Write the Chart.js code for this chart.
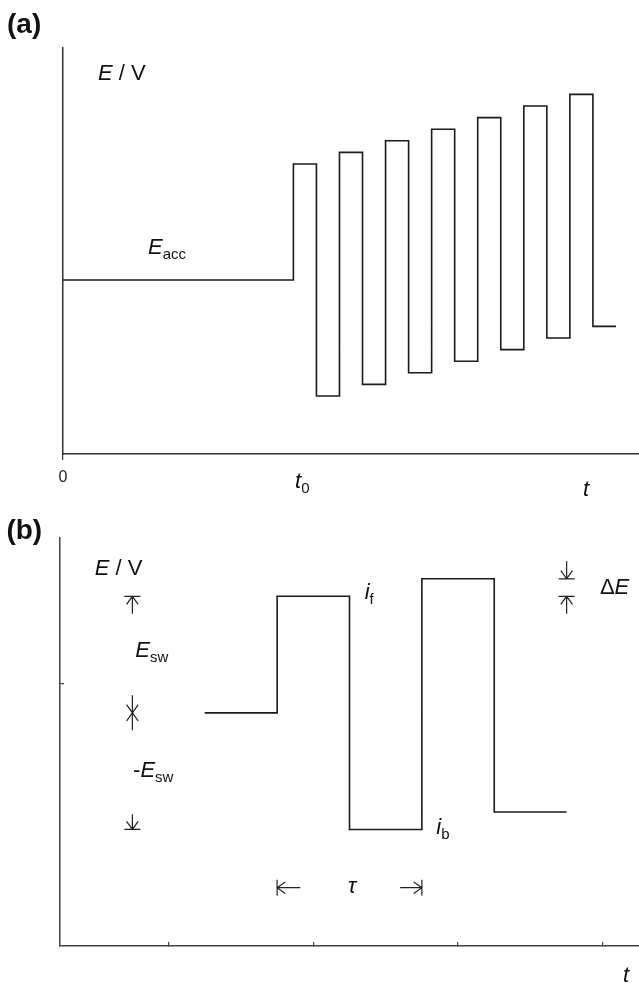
<!DOCTYPE html>
<html>
<head>
<meta charset="utf-8">
<script src="https://cdn.jsdelivr.net/npm/chart.js@4/dist/chart.umd.min.js"></script>
<style>
    html, body { margin: 0; padding: 0; background: #fff; }
    canvas { position: absolute; left: 0; }
    #panelA { top: 0; }
    #panelB { top: 500px; }
</style>
</head>
<body>
<canvas id="panelA" width="639" height="500"></canvas>
<canvas id="panelB" width="639" height="486"></canvas>
<script>
// (a) acumulacion + escalera de onda cuadrada
const tiemposA = [0, 10, 11, 12, 13, 14, 15, 16, 17, 18, 19, 20, 21, 22, 23, 24];
const potencialA = [15, 25, 5, 26, 6, 27, 7, 28, 8, 29, 9, 30, 10, 31, 11, 11];
const ticksA = [0];
const etiquetasA = ["0"];

// (b) detalle de dos periodos
const tiemposB = [2, 3, 4, 5, 6, 7];
const potencialB = [2, 3, 1, 3.15, 1.15, 1.15];
const ticksXB = [1.5, 3.5, 5.5, 7.5];
const ticksYB = [2.25];

const FUENTE = '"Liberation Sans", Arial, sans-serif';
const TINTA = "#1a1a1a";

// anotaciones en unidades de los ejes
const textosA = [
    { x: -2.43, y: 36.3, partes: [["(a)", "b"]] },
    { x: 1.52, y: 32.2, partes: [["E", "i"], [" / V", ""]] },
    { x: 3.69, y: 17.2, partes: [["E", "i"], ["acc", "s"]] },
    { x: 10.07, y: -2.93, partes: [["t", "i"], ["0", "s"]] },
    { x: 22.57, y: -3.62, partes: [["t", "i"]] }
];

const textosB = [
    { x: -0.74, y: 3.49, partes: [["(b)", "b"]] },
    { x: 0.48, y: 3.18, partes: [["E", "i"], [" / V", ""]] },
    { x: 1.04, y: 2.48, partes: [["E", "i"], ["sw", "s"]] },
    { x: 1.01, y: 1.45, partes: [["-", ""], ["E", "i"], ["sw", "s"]] },
    { x: 4.21, y: 2.98, partes: [["i", "i"], ["f", "s"]] },
    { x: 5.20, y: 0.96, partes: [["i", "i"], ["b", "s"]] },
    { x: 7.46, y: 3.02, partes: [["\u0394", ""], ["E", "i"]] },
    { x: 3.98, y: 0.455, partes: [["\u03c4", "i"]] },
    { x: 7.78, y: -0.31, partes: [["t", "i"]] }
];

// [x desde, y desde, x punta, y punta]
const flechasB = [
    [1, 2.85, 1, 3],
    [1, 1.13, 1, 1],
    [7, 3.30, 7, 3.15],
    [7, 2.85, 7, 3],
    [3.32, 0.5, 3, 0.5],
    [4.70, 0.5, 5, 0.5]
];
const estrellaB = { x: 1, y: 2, alto: 0.15 };

function textoRico(ctx, x, y, partes) {
    let cx = x;
    partes.forEach(([texto, estilo]) => {
        const sub = estilo.includes("s");
        const cursiva = estilo.includes("i");
        const negrita = estilo.includes("b");
        const tam = sub ? 15 : (negrita ? 28 : 22);
        ctx.font = (cursiva ? "italic " : "") + (negrita ? "bold " : "") + tam + "px " + FUENTE;
        ctx.fillText(texto, cx, sub ? y + 5 : y);
        cx += ctx.measureText(texto).width;
    });
}

function punta(ctx, x1, y1, x2, y2) {
    const ang = Math.atan2(y2 - y1, x2 - x1);
    const L = 10, W = 0.62;
    ctx.moveTo(x2 - L * Math.cos(ang - W), y2 - L * Math.sin(ang - W));
    ctx.lineTo(x2, y2);
    ctx.lineTo(x2 - L * Math.cos(ang + W), y2 - L * Math.sin(ang + W));
}

function flecha(ctx, x1, y1, x2, y2) {
    const ang = Math.atan2(y2 - y1, x2 - x1);
    const B = 8;
    ctx.beginPath();
    ctx.moveTo(x1, y1);
    ctx.lineTo(x2, y2);
    punta(ctx, x1, y1, x2, y2);
    ctx.moveTo(x2 - B * Math.sin(ang), y2 + B * Math.cos(ang));
    ctx.lineTo(x2 + B * Math.sin(ang), y2 - B * Math.cos(ang));
    ctx.stroke();
}

function pluginNotas(id, textos, flechas, estrella) {
    return {
        id: id,
        afterDraw(chart) {
            const { ctx, scales: { x, y } } = chart;
            const px = (v) => x.getPixelForValue(v);
            const py = (v) => y.getPixelForValue(v);
            ctx.save();
            ctx.fillStyle = "#111";
            ctx.strokeStyle = "#222";
            ctx.lineWidth = 1.2;
            ctx.textBaseline = "alphabetic";
            ctx.textAlign = "left";
            textos.forEach((t) => textoRico(ctx, px(t.x), py(t.y), t.partes));
            flechas.forEach((f) => flecha(ctx, px(f[0]), py(f[1]), px(f[2]), py(f[3])));
            if (estrella) {
                const cx = px(estrella.x), cy = py(estrella.y);
                const arriba = py(estrella.y + estrella.alto), abajo = py(estrella.y - estrella.alto);
                ctx.beginPath();
                ctx.moveTo(cx, arriba);
                ctx.lineTo(cx, abajo);
                punta(ctx, cx, arriba, cx, cy);
                punta(ctx, cx, abajo, cx, cy);
                ctx.stroke();
            }
            ctx.restore();
        }
    };
}

function serie(tiempos, valores) {
    return tiempos.map((t, i) => ({ x: t, y: valores[i] }));
}

const comunes = {
    responsive: false,
    animation: false,
    devicePixelRatio: 1,
    plugins: { legend: { display: false }, tooltip: { enabled: false } }
};

new Chart(document.getElementById("panelA"), {
    type: "scatter",
    data: {
        datasets: [{
            data: serie(tiemposA, potencialA),
            showLine: true,
            stepped: true,
            borderColor: TINTA,
            borderWidth: 1.6,
            pointRadius: 0
        }]
    },
    options: {
        ...comunes,
        layout: { padding: { top: 48, left: 0, right: 0, bottom: 0 } },
        scales: {
            x: {
                type: "linear",
                min: 0,
                max: 25,
                afterBuildTicks: (s) => { s.ticks = ticksA.map((v) => ({ value: v })); },
                afterFit: (s) => { s.height = 46; },
                ticks: {
                    callback: (v, i) => etiquetasA[i],
                    color: "#222",
                    font: { size: 16, family: FUENTE },
                    padding: 8,
                    maxRotation: 0,
                    autoSkip: false
                },
                grid: { drawOnChartArea: false, tickLength: 6, color: "#333", lineWidth: 1.2 },
                border: { color: "#333", width: 1.5 }
            },
            y: {
                type: "linear",
                min: 0,
                max: 35,
                afterFit: (s) => { s.width = 63; },
                ticks: { display: false },
                grid: { display: false },
                border: { color: "#333", width: 1.5 }
            }
        }
    },
    plugins: [pluginNotas("notasA", textosA, [], null)]
});

new Chart(document.getElementById("panelB"), {
    type: "scatter",
    data: {
        datasets: [{
            data: serie(tiemposB, potencialB),
            showLine: true,
            stepped: true,
            borderColor: TINTA,
            borderWidth: 1.6,
            pointRadius: 0
        }]
    },
    options: {
        ...comunes,
        layout: { padding: { top: 38, left: 0, right: 0, bottom: 0 } },
        scales: {
            x: {
                type: "linear",
                min: 0,
                max: 8,
                afterBuildTicks: (s) => { s.ticks = ticksXB.map((v) => ({ value: v })); },
                afterFit: (s) => { s.height = 40; },
                ticks: { display: false },
                grid: { drawOnChartArea: false, tickLength: -4, color: "#444", lineWidth: 1.2 },
                border: { color: "#444", width: 1.5 }
            },
            y: {
                type: "linear",
                min: 0,
                max: 3.5,
                afterBuildTicks: (s) => { s.ticks = ticksYB.map((v) => ({ value: v })); },
                afterFit: (s) => { s.width = 60; },
                ticks: { display: false },
                grid: { drawOnChartArea: false, tickLength: -4, color: "#444", lineWidth: 1.2 },
                border: { color: "#444", width: 1.5 }
            }
        }
    },
    plugins: [pluginNotas("notasB", textosB, flechasB, estrellaB)]
});
</script>
</body>
</html>
